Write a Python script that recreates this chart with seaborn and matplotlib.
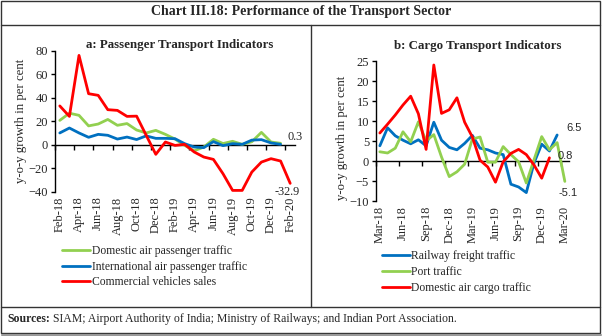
import numpy as np
import pandas as pd
import matplotlib
matplotlib.use("Agg")
import matplotlib.pyplot as plt
import seaborn as sns
from matplotlib.lines import Line2D
from matplotlib.patches import Rectangle
from matplotlib.text import Annotation

# ---------------- data ----------------
months_a = ["Feb-18", "Mar-18", "Apr-18", "May-18", "Jun-18", "Jul-18", "Aug-18", "Sep-18",
            "Oct-18", "Nov-18", "Dec-18", "Jan-19", "Feb-19", "Mar-19", "Apr-19", "May-19",
            "Jun-19", "Jul-19", "Aug-19", "Sep-19", "Oct-19", "Nov-19", "Dec-19", "Jan-20", "Feb-20"]
domestic_pax = [20.7, 26.8, 25.0, 16.0, 17.6, 21.5, 16.5, 18.0, 12.5, 10.0, 12.2, 8.8,
                4.8, -0.5, -5.2, -2.0, 4.6, 1.0, 2.9, 0.3, 2.5, 10.5, 2.3, 1.2]
intl_pax = [10.0, 14.2, 10.0, 6.3, 8.8, 8.0, 4.8, 6.5, 4.4, 7.5, 5.4, 5.4,
            5.1, 0.9, -2.0, -2.5, 2.6, -0.8, 0.9, 0.3, 3.9, 4.3, 1.5, 0.3]
cv_sales = [33.0, 24.1, 76.0, 43.4, 42.0, 29.8, 29.2, 24.1, 24.3, 8.0, -8.2, 2.3,
            -0.6, 0.3, -6.2, -10.5, -12.5, -24.7, -38.9, -38.9, -23.3, -14.8, -11.9, -13.9, -32.9]

months_b = ["Mar-18", "Apr-18", "May-18", "Jun-18", "Jul-18", "Aug-18", "Sep-18", "Oct-18",
            "Nov-18", "Dec-18", "Jan-19", "Feb-19", "Mar-19", "Apr-19", "May-19", "Jun-19",
            "Jul-19", "Aug-19", "Sep-19", "Oct-19", "Nov-19", "Dec-19", "Jan-20", "Feb-20", "Mar-20"]
rail_freight = [3.8, 8.3, 6.3, 5.2, 4.3, 5.3, 3.8, 9.7, 5.2, 3.4, 2.8, 4.4,
                6.4, 3.2, 2.8, 2.0, 1.6, -5.8, -6.5, -7.9, -0.5, 4.2, 2.5, 6.5]
port_traffic = [2.3, 2.0, 3.2, 7.3, 4.8, 9.8, 5.0, 6.6, 1.0, -3.9, -2.7, -0.8,
                5.5, 6.0, -0.3, -0.3, 3.6, 1.6, -0.2, -5.5, 0.3, 6.1, 2.8, 4.6, -5.1]
air_cargo = [7.0, 9.2, 11.5, 14.0, 16.2, 11.8, 2.9, 24.0, 11.9, 12.8, 15.8, 9.7,
             6.0, 0.2, -1.5, -5.3, -0.2, 1.9, 2.9, 1.6, -1.0, -4.3, 0.8]

names_a = ["Domestic air passenger traffic", "International air passenger traffic",
           "Commercial vehicles sales"]
names_b = ["Railway freight traffic", "Port traffic", "Domestic air cargo traffic"]

GREEN, BLUE, RED = "#92D050", "#0070C0", "#FF0000"


def long_df(names, series):
    frames = []
    for n, s in zip(names, series):
        frames.append(pd.DataFrame({"x": np.arange(len(s)), "value": s, "series": n}))
    return pd.concat(frames, ignore_index=True)


df_a = long_df(names_a, [domestic_pax, intl_pax, cv_sales])
df_b = long_df(names_b, [rail_freight, port_traffic, air_cargo])

# ---------------- style ----------------
sns.set_style("white")
plt.rcParams["font.family"] = ["Liberation Serif", "DejaVu Serif"]
plt.rcParams["axes.linewidth"] = 1.0

W, H = 602, 336
fig = plt.figure(figsize=(W / 100, H / 100), dpi=100)


def fx(px):
    return px / W


def fy(py):
    return 1 - py / H


ax_a = fig.add_axes([fx(55), fy(191.7), fx(295) - fx(55), fy(50.7) - fy(191.7)])
ax_b = fig.add_axes([fx(376), fy(201), fx(568.7) - fx(376), fy(61) - fy(201)])


def style_axis(ax, df, names, palette, ylim, yticks, months, step, ylabel_x, ylabel_y):
    sns.lineplot(data=df, x="x", y="value", hue="series", hue_order=names,
                 palette=palette, linewidth=2.0, sort=False, estimator=None, ax=ax)
    ax.set_facecolor("none")
    ax.set_xlim(-0.5, 24.5)
    ax.set_ylim(*ylim)
    ax.set_yticks(yticks)
    ax.tick_params(axis="y", direction="out", length=3, width=1, color="black",
                   labelsize=9, pad=2, left=True)
    ax.set_xticks(np.arange(0, 25, step))
    ax.set_xticklabels(months[::step], rotation=90)
    ax.tick_params(axis="x", length=0, labelsize=9, pad=3.5)
    for s in ["top", "right", "bottom"]:
        ax.spines[s].set_visible(False)
    ax.spines["left"].set_color("black")
    ax.set_xlabel("")
    ax.set_ylabel("y-o-y growth in per cent", fontsize=9.2)
    ax.yaxis.set_label_coords(ylabel_x, ylabel_y)
    loc = (0 - ylim[0]) / (ylim[1] - ylim[0])
    sec = ax.secondary_xaxis(loc)
    sec.set_xticks(np.arange(-0.5, 24.5, step))
    sec.set_xticklabels([])
    sec.tick_params(axis="x", direction="out", length=3.5, width=1, color="black")
    for s in sec.spines.values():
        s.set_color("black")
        s.set_linewidth(1.0)


style_axis(ax_a, df_a, names_a, [GREEN, BLUE, RED], (-40, 80), np.arange(-40, 81, 20),
           months_a, 2, -0.118, 0.5)
style_axis(ax_b, df_b, names_b, [BLUE, GREEN, RED], (-10, 25), np.arange(-10, 26, 5),
           months_b, 3, -0.145, 0.45)

sns.move_legend(ax_a, "upper left", bbox_to_anchor=(fx(62), fy(245)),
                bbox_transform=fig.transFigure, frameon=False, title=None,
                fontsize=8.4, handlelength=2.4, handletextpad=0.15, labelspacing=0.32,
                borderpad=0, borderaxespad=0)
sns.move_legend(ax_b, "upper left", bbox_to_anchor=(fx(381.5), fy(250.5)),
                bbox_transform=fig.transFigure, frameon=False, title=None,
                fontsize=8.4, handlelength=2.4, handletextpad=0.15, labelspacing=0.32,
                borderpad=0, borderaxespad=0)

ax_a.annotate(f"{intl_pax[-1]:.1f}", xy=(len(intl_pax) - 1, intl_pax[-1]),
              xytext=(5, 5.3), textcoords="offset points", ha="left", va="center", fontsize=8.8,
              annotation_clip=False)
ax_a.annotate(f"{cv_sales[-1]:.1f}", xy=(len(cv_sales) - 1, cv_sales[-1]),
              xytext=(-2, -6.3), textcoords="offset points", ha="center", va="center",
              fontsize=8.8, annotation_clip=False)
sans = ["Liberation Sans", "DejaVu Sans"]
ax_b.annotate(f"{rail_freight[-1]:.1f}", xy=(len(rail_freight) - 1, rail_freight[-1]),
              xytext=(6.5, 4.8), textcoords="offset points", ha="left", va="center",
              fontsize=8, family=sans, annotation_clip=False)
ax_b.annotate(f"{air_cargo[-1]:.1f}", xy=(len(air_cargo) - 1, air_cargo[-1]),
              xytext=(6.2, 1.3), textcoords="offset points", ha="left", va="center",
              fontsize=8, family=sans, annotation_clip=False)
ax_b.annotate(f"{port_traffic[-1]:.1f}", xy=(len(port_traffic) - 1, port_traffic[-1]),
              xytext=(2, -8.1), textcoords="offset points", ha="center", va="center",
              fontsize=8, family=sans, annotation_clip=False)

fig.text(0.5, fy(12), "Chart III.18: Performance of the Transport Sector", ha="center",
         va="center", fontsize=10, fontweight="bold")
fig.text(fx(180), fy(45), "a: Passenger Transport Indicators", ha="center", va="center",
         fontsize=9.3, fontweight="bold")
fig.text(fx(478), fy(46), "b: Cargo Transport Indicators", ha="center", va="center",
         fontsize=9.3, fontweight="bold")

t1 = fig.text(fx(7), fy(319), "Sources:", ha="left", va="center", fontsize=8.5,
              fontweight="bold")
fig.add_artist(Annotation(" SIAM; Airport Authority of India; Ministry of Railways; and Indian Port Association.",
                          xy=(1, 0.5), xycoords=t1, va="center", ha="left", fontsize=8.5))

fig.add_artist(Rectangle((fx(1), fy(333)), fx(600) - fx(1), fy(1) - fy(333), fill=False,
                         edgecolor="#333333", linewidth=1.0, transform=fig.transFigure))
fig.add_artist(Line2D([fx(1), fx(600)], [fy(25), fy(25)], color="#333333", linewidth=1.0,
                      transform=fig.transFigure))
fig.add_artist(Line2D([fx(1), fx(600)], [fy(307), fy(307)], color="#333333", linewidth=1.0,
                      transform=fig.transFigure))
fig.add_artist(Line2D([fx(311), fx(311)], [fy(25), fy(307)], color="#333333", linewidth=1.0,
                      transform=fig.transFigure))
fig.add_artist(Line2D([fx(2), fx(601)], [fy(334.5), fy(334.5)], color="#999999",
                      linewidth=1.5, transform=fig.transFigure))

fig.savefig("out.png", dpi=100)
